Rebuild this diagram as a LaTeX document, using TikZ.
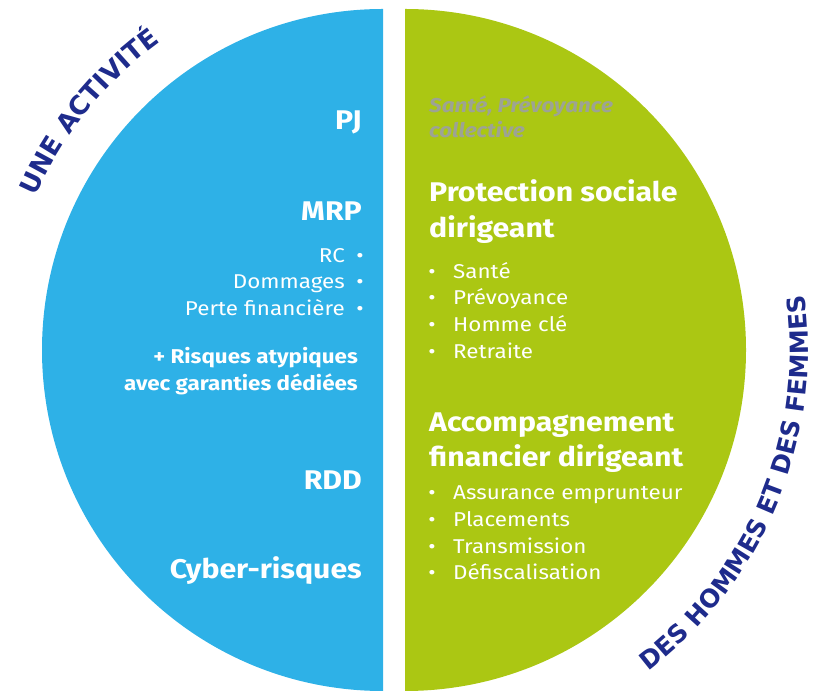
\documentclass[tikz,border=0pt]{standalone}
\usepackage{fontspec}
\setmainfont[FakeStretch=1.12]{Fira Sans}
\newfontfamily\curvefont{DejaVu Sans}
\usetikzlibrary{decorations.text}
\definecolor{bluehalf}{HTML}{2EB1E7}
\definecolor{greenhalf}{HTML}{ABC713}
\definecolor{navytext}{HTML}{1E2B8C}
\definecolor{grayit}{HTML}{9DA394}
\begin{document}
\begin{tikzpicture}[x=1pt,y=1pt,
  head/.style={font=\fontsize{27}{27}\selectfont\bfseries, text=white, inner sep=0pt},
  body/.style={font=\fontsize{20}{20}\selectfont, text=white, inner sep=0pt},
  bodyb/.style={font=\fontsize{20}{20}\selectfont\bfseries, text=white, inner sep=0pt},
  grayitem/.style={font=\fontsize{20}{20}\selectfont\bfseries\itshape, text=grayit, inner sep=0pt},
  dotmark/.style={font=\fontsize{20}{20}\selectfont, text=white, inner sep=0pt}]
\useasboundingbox (0,0) rectangle (813,695);
% halves
\coordinate (cb) at (383,345);
\coordinate (cg) at (405,345);
\fill[bluehalf] (383,686) arc[start angle=90,end angle=270,radius=341pt] -- cycle;
\fill[greenhalf] (405,4) arc[start angle=-90,end angle=90,radius=341pt] -- cycle;
% curved labels
\path[decorate, decoration={text along path, text align=center,
  text color=navytext, text={|\curvefont\fontsize{26}{26}\selectfont\bfseries|UNE ACTIVITÉ}}]
  (cb) ++(170:380pt) arc[start angle=170,end angle=112,radius=380pt];
\path[decorate, decoration={text along path, text align=center,
  text color=navytext, text={|\curvefont\fontsize{25}{25}\selectfont\bfseries|DES HOMMES ET DES FEMMES}}]
  (cg) ++(-77:403pt) arc[start angle=-77,end angle=32,radius=403pt];
% left texts
\node[head, anchor=base east] (pj) at (362,565) {PJ};
\node[head, anchor=base east] (mrp) at (362,474) {MRP};
\node[body, anchor=base east] (rc) at (345,432) {RC};
\node[body, anchor=base east] (dom) at (345,406) {Dommages};
\node[body, anchor=base east] (perte) at (345,379) {Perte financière};
\node[dotmark, anchor=base] (d1) at (360,432) {•};
\node[dotmark, anchor=base] (d2) at (360,406) {•};
\node[dotmark, anchor=base] (d3) at (360,379) {•};
\node[bodyb, anchor=base east] (ris1) at (358,331) {+ Risques atypiques};
\node[bodyb, anchor=base east] (ris2) at (358,304) {avec garanties dédiées};
\node[head, anchor=base east] (rdd) at (362,205) {RDD};
\node[head, anchor=base east] (cyber) at (362,116) {Cyber-risques};
% right texts
\node[grayitem, anchor=base west] (g1) at (429,582) {Santé, Prévoyance};
\node[grayitem, anchor=base west] (g2) at (429,557) {collective};
\node[head, anchor=base west] (ps1) at (429,493) {Protection sociale};
\node[head, anchor=base west] (ps2) at (429,457) {dirigeant};
\foreach \t/\yy [count=\i] in {Santé/416, Prévoyance/390, Homme clé/363, Retraite/336}{
  \node[dotmark, anchor=base] (pb\i) at (432,\yy) {•};
  \node[body, anchor=base west] (pt\i) at (453,\yy) {\t};
}
\node[head, anchor=base west] (ac1) at (429,263) {Accompagnement};
\node[head, anchor=base west] (ac2) at (429,228) {financier dirigeant};
\foreach \t/\yy [count=\i] in {Assurance emprunteur/195, Placements/168, Transmission/141, Défiscalisation/115}{
  \node[dotmark, anchor=base] (ab\i) at (432,\yy) {•};
  \node[body, anchor=base west] (at\i) at (453,\yy) {\t};
}
\end{tikzpicture}
\end{document}
